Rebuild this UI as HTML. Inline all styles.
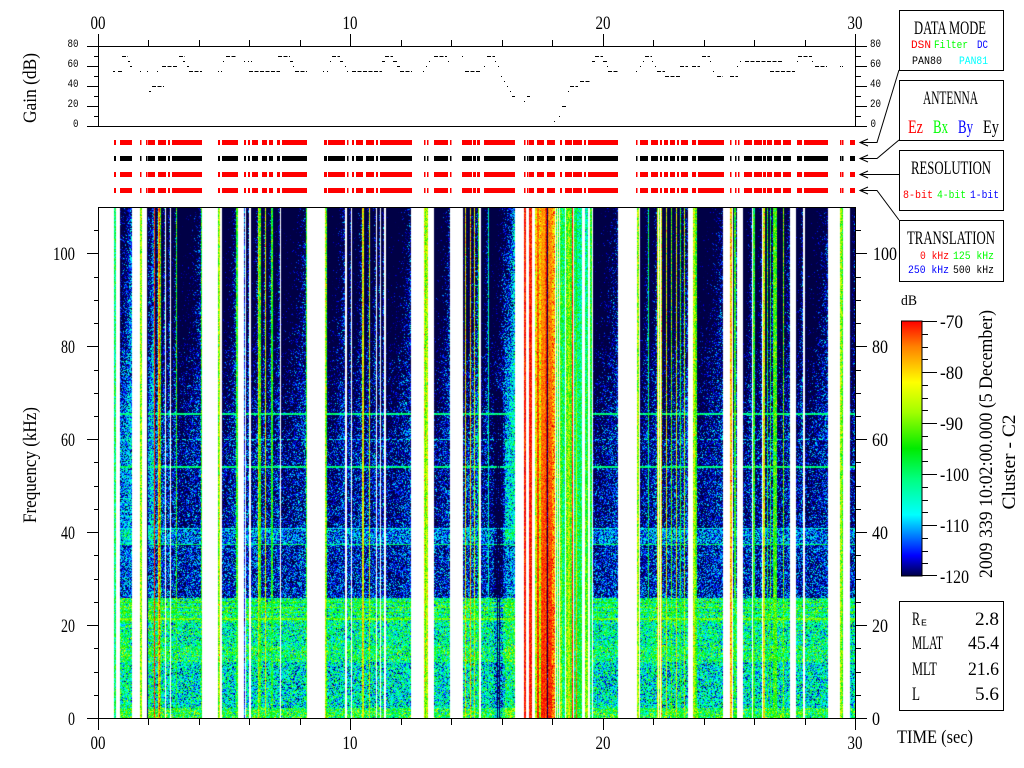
<!DOCTYPE html>
<html><head><meta charset="utf-8">
<style>
html,body{margin:0;padding:0;background:#fff;}
#wrap{position:relative;width:1024px;height:768px;overflow:hidden;background:#fff;}
#spec{position:absolute;left:99px;top:208px;}
#ov{position:absolute;left:0;top:0;}
.s{font-family:"Liberation Serif",serif;font-size:19px;fill:#000;}
.m{font-family:"Liberation Mono",monospace;font-size:11px;fill:#000;}
</style></head>
<body><div id="wrap">
<canvas id="spec" width="756" height="510"></canvas>
<svg id="ov" width="1024" height="768" viewBox="0 0 1024 768" xmlns="http://www.w3.org/2000/svg">
<defs>
<linearGradient id="cb" x1="0" y1="0" x2="0" y2="1">
<stop offset="0" stop-color="#ff0000"/>
<stop offset="0.1" stop-color="#ff8000"/>
<stop offset="0.24" stop-color="#ffff00"/>
<stop offset="0.36" stop-color="#a0ff00"/>
<stop offset="0.5" stop-color="#00eb00"/>
<stop offset="0.62" stop-color="#00ff80"/>
<stop offset="0.76" stop-color="#00ffff"/>
<stop offset="0.84" stop-color="#0080ff"/>
<stop offset="0.92" stop-color="#0000ff"/>
<stop offset="1" stop-color="#000046"/>
</linearGradient>
<g id="bars">
<rect x="114" y="0" width="2" height="5"/><rect x="120" y="0" width="12" height="5"/><rect x="140" y="0" width="1.5" height="5"/><rect x="146" y="0" width="1.5" height="5"/><rect x="148" y="0" width="7" height="5"/><rect x="158" y="0" width="8" height="5"/><rect x="168" y="0" width="2" height="5"/><rect x="172" y="0" width="30" height="5"/>
<rect x="218" y="0" width="2" height="5"/><rect x="222" y="0" width="16" height="5"/><rect x="244" y="0" width="2" height="5"/><rect x="248" y="0" width="2" height="5"/><rect x="252" y="0" width="6" height="5"/><rect x="262" y="0" width="5" height="5"/><rect x="269" y="0" width="4" height="5"/><rect x="277" y="0" width="3" height="5"/><rect x="282" y="0" width="25" height="5"/>
<rect x="324" y="0" width="3" height="5"/><rect x="328" y="0" width="17" height="5"/><rect x="347" y="0" width="1.5" height="5"/><rect x="352" y="0" width="2" height="5"/><rect x="356" y="0" width="7" height="5"/><rect x="366" y="0" width="8" height="5"/><rect x="376" y="0" width="2" height="5"/><rect x="380" y="0" width="32" height="5"/>
<rect x="424" y="0" width="1.5" height="5"/><rect x="427" y="0" width="1.5" height="5"/><rect x="434" y="0" width="14" height="5"/><rect x="450" y="0" width="1.5" height="5"/><rect x="462" y="0" width="10" height="5"/><rect x="473" y="0" width="3" height="5"/><rect x="477" y="0" width="3" height="5"/><rect x="484" y="0" width="31" height="5"/>
<rect x="524" y="0" width="1.5" height="5"/><rect x="527" y="0" width="1.5" height="5"/><rect x="529" y="0" width="5" height="5"/><rect x="537" y="0" width="7" height="5"/><rect x="547" y="0" width="8" height="5"/><rect x="560" y="0" width="2" height="5"/><rect x="565" y="0" width="7" height="5"/><rect x="573" y="0" width="9" height="5"/><rect x="584" y="0" width="2" height="5"/><rect x="588" y="0" width="30" height="5"/>
<rect x="636" y="0" width="1.5" height="5"/><rect x="640" y="0" width="8" height="5"/><rect x="651" y="0" width="7" height="5"/><rect x="660" y="0" width="2" height="5"/><rect x="664" y="0" width="4" height="5"/><rect x="670" y="0" width="5" height="5"/><rect x="677" y="0" width="2" height="5"/><rect x="681" y="0" width="7" height="5"/><rect x="692" y="0" width="4" height="5"/><rect x="698" y="0" width="26" height="5"/>
<rect x="730" y="0" width="1.5" height="5"/><rect x="735" y="0" width="1.5" height="5"/><rect x="738" y="0" width="1.5" height="5"/><rect x="744" y="0" width="8" height="5"/><rect x="754" y="0" width="8" height="5"/><rect x="763" y="0" width="3" height="5"/><rect x="767" y="0" width="5" height="5"/><rect x="774" y="0" width="7" height="5"/><rect x="783" y="0" width="8" height="5"/><rect x="797" y="0" width="5" height="5"/><rect x="804" y="0" width="24" height="5"/>
<rect x="840" y="0" width="1.5" height="5"/><rect x="842" y="0" width="1.5" height="5"/><rect x="850" y="0" width="5" height="5"/>
</g>
</defs>

<!-- GAIN PANEL -->
<g stroke="#000" stroke-width="1" fill="none" shape-rendering="crispEdges">
<path d="M98.5 34V127 M855.5 34V127 M87 46.5H867 M87 126.5H867
M148.5 40V46 M199.5 40V46 M249.5 40V46 M300.5 40V46 M401.5 40V46 M451.5 40V46 M502.5 40V46 M552.5 40V46 M653.5 40V46 M704.5 40V46 M754.5 40V46 M805.5 40V46
M350.5 34V46 M603.5 34V46
M94 56.5H98 M94 76.5H98 M94 96.5H98 M94 116.5H98 M856 56.5H861 M856 76.5H861 M856 96.5H861 M856 116.5H861
M87 66.5H98 M87 86.5H98 M87 106.5H98 M856 66.5H867 M856 86.5H867 M856 106.5H867"/>
</g>
<g stroke="#000" stroke-width="1" stroke-dasharray="4 1.5" shape-rendering="crispEdges">
<path d="M113 71.5H115 M118 71.5H122 M122 56.5H128 M128 61.5H130 M130 66.5H132 M140 71.5H141 M147 71.5H148 M149 91.5H151 M152 86.5H164 M157 71.5H158 M162 66.5H178 M179 56.5H185 M183 61.5H185 M187 66.5H189 M189 71.5H202
M218 71.5H219 M221 71.5H222 M223 61.5H224 M226 56.5H237 M244 61.5H245 M248 61.5H249 M251 61.5H252 M249 71.5H280 M278 56.5H290 M290 61.5H293 M293 66.5H294 M295 71.5H307
M323 71.5H324 M327 71.5H328 M330 61.5H331 M332 56.5H340 M340 61.5H343 M345 66.5H346 M347 71.5H348 M352 71.5H382 M382 61.5H385 M385 56.5H393 M393 61.5H397 M397 66.5H400 M400 71.5H412
M423 71.5H424 M426 66.5H427 M429 61.5H430 M434 56.5H447 M448 61.5H449 M462 56.5H463 M465 71.5H480 M484 66.5H485 M487 56.5H495 M495 61.5H496 M498 66.5H499 M501 76.5H502 M504 81.5H505 M507 86.5H508 M510 91.5H511 M512 96.5H515 M524 101.5H525 M527 96.5H530
M554 121.5H555 M559 116.5H560 M562 106.5H567 M568 91.5H569 M570 86.5H578 M580 81.5H590 M592 61.5H595 M595 56.5H603 M603 61.5H607 M607 66.5H608 M608 71.5H618
M636 71.5H637 M640 66.5H641 M643 61.5H644 M645 56.5H652 M652 61.5H653 M655 66.5H656 M657 71.5H665 M665 76.5H680 M680 66.5H688 M692 66.5H700 M702 56.5H710 M710 61.5H711 M713 71.5H714 M717 76.5H723 M730 76.5H738 M737 66.5H738 M740 61.5H741 M745 61.5H783 M770 71.5H795 M797 61.5H798 M798 56.5H812 M812 61.5H813 M815 66.5H827 M840 66.5H841 M842 66.5H843"/>
</g>
<text class="m" x="78.5" y="47" text-anchor="end" textLength="11" lengthAdjust="spacingAndGlyphs">80</text>
<text class="m" x="78.5" y="67" text-anchor="end" textLength="11" lengthAdjust="spacingAndGlyphs">60</text>
<text class="m" x="78.5" y="87" text-anchor="end" textLength="11" lengthAdjust="spacingAndGlyphs">40</text>
<text class="m" x="78.5" y="107" text-anchor="end" textLength="11" lengthAdjust="spacingAndGlyphs">20</text>
<text class="m" x="78.5" y="127" text-anchor="end" textLength="5.5" lengthAdjust="spacingAndGlyphs">0</text>
<text class="m" x="870" y="47" textLength="11" lengthAdjust="spacingAndGlyphs">80</text>
<text class="m" x="870" y="67" textLength="11" lengthAdjust="spacingAndGlyphs">60</text>
<text class="m" x="870" y="87" textLength="11" lengthAdjust="spacingAndGlyphs">40</text>
<text class="m" x="870" y="107" textLength="11" lengthAdjust="spacingAndGlyphs">20</text>
<text class="m" x="870.5" y="127" textLength="5.5" lengthAdjust="spacingAndGlyphs">0</text>

<text class="s" x="98" y="29" text-anchor="middle" textLength="15" lengthAdjust="spacingAndGlyphs">00</text>
<text class="s" x="350" y="29" text-anchor="middle" textLength="15" lengthAdjust="spacingAndGlyphs">10</text>
<text class="s" x="603" y="29" text-anchor="middle" textLength="15" lengthAdjust="spacingAndGlyphs">20</text>
<text class="s" x="855" y="29" text-anchor="middle" textLength="15" lengthAdjust="spacingAndGlyphs">30</text>

<text class="s" transform="translate(36,88) rotate(-90)" text-anchor="middle" textLength="70" lengthAdjust="spacingAndGlyphs">Gain (dB)</text>
<text class="s" transform="translate(36,465) rotate(-90)" text-anchor="middle" textLength="116" lengthAdjust="spacingAndGlyphs">Frequency (kHz)</text>

<!-- MODE BARS -->
<use href="#bars" x="0" y="140" fill="#ff0000"/>
<use href="#bars" x="0" y="156" fill="#000000"/>
<use href="#bars" x="0" y="172" fill="#ff0000"/>
<use href="#bars" x="0" y="188" fill="#ff0000"/>

<!-- ARROWS -->
<g stroke="#000" stroke-width="1" fill="none">
<path d="M860 142.5H877L899 70 M868 139L860 142.5L868 146"/>
<path d="M860 158.5H877L899 140 M868 155L860 158.5L868 162"/>
<path d="M860 174.5H899 M868 171L860 174.5L868 178"/>
<path d="M860 190.5H877L899 220 M868 187L860 190.5L868 194"/>
</g>

<!-- LEGEND BOXES -->
<g stroke="#000" stroke-width="1" fill="none" shape-rendering="crispEdges">
<rect x="899.5" y="10.5" width="104" height="60"/>
<rect x="899.5" y="80.5" width="104" height="60"/>
<rect x="899.5" y="150.5" width="104" height="60"/>
<rect x="899.5" y="220.5" width="104" height="61"/>
<rect x="899.5" y="601.5" width="104" height="109"/>
</g>
<text class="s" x="914" y="34" textLength="72" lengthAdjust="spacingAndGlyphs">DATA MODE</text>
<text class="m" x="911" y="48" textLength="20" lengthAdjust="spacingAndGlyphs" style="fill:#ff0000">DSN</text>
<text class="m" x="934" y="48" textLength="34" lengthAdjust="spacingAndGlyphs" style="fill:#00ff00">Filter</text>
<text class="m" x="977" y="48" textLength="11" lengthAdjust="spacingAndGlyphs" style="fill:#0000ff">DC</text>
<text class="m" x="912" y="64" textLength="30" lengthAdjust="spacingAndGlyphs">PAN80</text>
<text class="m" x="959" y="64" textLength="29" lengthAdjust="spacingAndGlyphs" style="fill:#00ffff">PAN81</text>

<text class="s" x="923" y="104" textLength="55" lengthAdjust="spacingAndGlyphs">ANTENNA</text>
<text class="s" x="908" y="133" textLength="15" lengthAdjust="spacingAndGlyphs" style="fill:#ff0000">Ez</text>
<text class="s" x="933" y="133" textLength="15" lengthAdjust="spacingAndGlyphs" style="fill:#00ff00">Bx</text>
<text class="s" x="958" y="133" textLength="15" lengthAdjust="spacingAndGlyphs" style="fill:#0000ff">By</text>
<text class="s" x="983" y="133" textLength="16" lengthAdjust="spacingAndGlyphs">Ey</text>

<text class="s" x="911" y="174" textLength="80" lengthAdjust="spacingAndGlyphs">RESOLUTION</text>
<text class="m" x="903" y="198" textLength="30" lengthAdjust="spacingAndGlyphs" style="fill:#ff0000">8-bit</text>
<text class="m" x="937" y="198" textLength="29" lengthAdjust="spacingAndGlyphs" style="fill:#00ff00">4-bit</text>
<text class="m" x="970" y="198" textLength="29" lengthAdjust="spacingAndGlyphs" style="fill:#0000ff">1-bit</text>

<text class="s" x="907" y="244" textLength="88" lengthAdjust="spacingAndGlyphs">TRANSLATION</text>
<text class="m" x="920" y="259" textLength="29" lengthAdjust="spacingAndGlyphs" style="fill:#ff0000">0 kHz</text>
<text class="m" x="953" y="259" textLength="41" lengthAdjust="spacingAndGlyphs" style="fill:#00ff00">125 kHz</text>
<text class="m" x="908" y="273" textLength="41" lengthAdjust="spacingAndGlyphs" style="fill:#0000ff">250 kHz</text>
<text class="m" x="953" y="273" textLength="41" lengthAdjust="spacingAndGlyphs">500 kHz</text>

<!-- SPECTROGRAM AXES -->
<g stroke="#000" stroke-width="1" fill="none" shape-rendering="crispEdges">
<path d="M98.5 207V730 M855.5 207V730 M98 207.5H856 M87 718.5H867
M148.5 719V725 M199.5 719V725 M249.5 719V725 M300.5 719V725 M401.5 719V725 M451.5 719V725 M502.5 719V725 M552.5 719V725 M653.5 719V725 M704.5 719V725 M754.5 719V725 M805.5 719V725
M350.5 719V730 M603.5 719V730
M94 695.5H98 M94 672.5H98 M94 648.5H98 M94 602.5H98 M94 579.5H98 M94 555.5H98 M94 509.5H98 M94 486.5H98 M94 462.5H98 M94 416.5H98 M94 393.5H98 M94 370.5H98 M94 323.5H98 M94 300.5H98 M94 277.5H98 M94 230.5H98
M856 695.5H861 M856 672.5H861 M856 648.5H861 M856 602.5H861 M856 579.5H861 M856 555.5H861 M856 509.5H861 M856 486.5H861 M856 462.5H861 M856 416.5H861 M856 393.5H861 M856 370.5H861 M856 323.5H861 M856 300.5H861 M856 277.5H861 M856 230.5H861
M87 625.5H98 M87 532.5H98 M87 439.5H98 M87 346.5H98 M87 253.5H98
M856 625.5H867 M856 532.5H867 M856 439.5H867 M856 346.5H867 M856 253.5H867"/>
</g>
<text class="s" x="75" y="725" text-anchor="end" textLength="7" lengthAdjust="spacingAndGlyphs">0</text>
<text class="s" x="75" y="632" text-anchor="end" textLength="14" lengthAdjust="spacingAndGlyphs">20</text>
<text class="s" x="75" y="539" text-anchor="end" textLength="14" lengthAdjust="spacingAndGlyphs">40</text>
<text class="s" x="75" y="446" text-anchor="end" textLength="14" lengthAdjust="spacingAndGlyphs">60</text>
<text class="s" x="75" y="353" text-anchor="end" textLength="14" lengthAdjust="spacingAndGlyphs">80</text>
<text class="s" x="75" y="260" text-anchor="end" textLength="22" lengthAdjust="spacingAndGlyphs">100</text>
<text class="s" x="872" y="725" textLength="8" lengthAdjust="spacingAndGlyphs">0</text>
<text class="s" x="872" y="632" textLength="16" lengthAdjust="spacingAndGlyphs">20</text>
<text class="s" x="872" y="539" textLength="16" lengthAdjust="spacingAndGlyphs">40</text>
<text class="s" x="872" y="446" textLength="16" lengthAdjust="spacingAndGlyphs">60</text>
<text class="s" x="872" y="353" textLength="16" lengthAdjust="spacingAndGlyphs">80</text>
<text class="s" x="873" y="260" textLength="24" lengthAdjust="spacingAndGlyphs">100</text>

<text class="s" x="98" y="749" text-anchor="middle" textLength="15" lengthAdjust="spacingAndGlyphs">00</text>
<text class="s" x="350" y="749" text-anchor="middle" textLength="15" lengthAdjust="spacingAndGlyphs">10</text>
<text class="s" x="603" y="749" text-anchor="middle" textLength="15" lengthAdjust="spacingAndGlyphs">20</text>
<text class="s" x="855" y="749" text-anchor="middle" textLength="15" lengthAdjust="spacingAndGlyphs">30</text>

<!-- COLORBAR -->
<text class="s" x="901" y="305" textLength="16" lengthAdjust="spacingAndGlyphs" style="font-size:15px">dB</text>
<rect x="901.5" y="321" width="20.5" height="255" fill="url(#cb)" stroke="#000" stroke-width="1"/>
<g stroke="#000" stroke-width="1" fill="none" shape-rendering="crispEdges">
<path d="M922 321.5H937 M922 372.5H937 M922 423.5H937 M922 474.5H937 M922 525.5H937 M922 575.5H937
M922 334.5H928 M922 347.5H928 M922 359.5H928 M922 385.5H928 M922 398.5H928 M922 410.5H928 M922 436.5H928 M922 449.5H928 M922 461.5H928 M922 487.5H928 M922 500.5H928 M922 512.5H928 M922 538.5H928 M922 551.5H928 M922 563.5H928"/>
</g>
<text class="s" x="940" y="328" textLength="23" lengthAdjust="spacingAndGlyphs">-70</text>
<text class="s" x="940" y="379" textLength="23" lengthAdjust="spacingAndGlyphs">-80</text>
<text class="s" x="940" y="430" textLength="23" lengthAdjust="spacingAndGlyphs">-90</text>
<text class="s" x="940" y="481" textLength="29" lengthAdjust="spacingAndGlyphs">-100</text>
<text class="s" x="940" y="532" textLength="29" lengthAdjust="spacingAndGlyphs">-110</text>
<text class="s" x="940" y="583" textLength="29" lengthAdjust="spacingAndGlyphs">-120</text>
<text class="s" transform="translate(992,444) rotate(-90)" text-anchor="middle" textLength="268" lengthAdjust="spacingAndGlyphs">2009 339 10:02:00.000 (5 December)</text>
<text class="s" transform="translate(1015,462) rotate(-90)" text-anchor="middle" textLength="95" lengthAdjust="spacingAndGlyphs">Cluster - C2</text>

<!-- INFO BOX -->
<text class="s" x="912" y="625" textLength="8" lengthAdjust="spacingAndGlyphs">R</text>
<text class="m" x="921" y="625.5" textLength="6" lengthAdjust="spacingAndGlyphs" style="font-size:9px">E</text>
<text class="s" x="999" y="625" text-anchor="end" textLength="24" lengthAdjust="spacingAndGlyphs">2.8</text>
<text class="s" x="912" y="649" textLength="31" lengthAdjust="spacingAndGlyphs">MLAT</text>
<text class="s" x="999" y="649" text-anchor="end" textLength="31" lengthAdjust="spacingAndGlyphs">45.4</text>
<text class="s" x="912" y="675" textLength="25" lengthAdjust="spacingAndGlyphs">MLT</text>
<text class="s" x="999" y="675" text-anchor="end" textLength="31" lengthAdjust="spacingAndGlyphs">21.6</text>
<text class="s" x="912" y="700" textLength="8" lengthAdjust="spacingAndGlyphs">L</text>
<text class="s" x="999" y="700" text-anchor="end" textLength="24" lengthAdjust="spacingAndGlyphs">5.6</text>

<text class="s" x="897" y="743" textLength="76" lengthAdjust="spacingAndGlyphs">TIME (sec)</text>
</svg>
</div>
<script>
(function(){
var c=document.getElementById('spec');if(!c||!c.getContext)return;
var ctx=c.getContext('2d');var W=756,H=510;var img=ctx.createImageData(W,H);var D=img.data;
var s=2463534242;
function rnd(){s^=s<<13;s^=s>>>17;s^=s<<5;return (s>>>0)/4294967296;}
function g(){return (rnd()+rnd()+rnd()-1.5)*2;}
var S=[[-120,0,0,70],[-116,0,0,255],[-112,0,128,255],[-108,0,255,255],[-101,0,255,128],[-95,0,235,0],[-88,160,255,0],[-82,255,255,0],[-75,255,128,0],[-70,255,0,0],[-65,140,0,0]];
var o=[0,0,0];
function cm(v){
 if(v<=S[0][0]){o[0]=0;o[1]=0;o[2]=70;return;}
 for(var i=1;i<S.length;i++){if(v<=S[i][0]){var a=S[i-1],b=S[i],t=(v-a[0])/(b[0]-a[0]);o[0]=a[1]+(b[1]-a[1])*t;o[1]=a[2]+(b[2]-a[2])*t;o[2]=a[3]+(b[3]-a[3])*t;return;}}
 var l=S[S.length-1];o[0]=l[1];o[1]=l[2];o[2]=l[3];
}
var segs=[[120,132,8],[148,154,10],[155,158,4],[161,165,3],[166,170,2],[171,176,1],[177,201,0],
[222,236,0],[246,249,2],[251,258,1],[261,265,1],[266,271,1],[273,280,1],[281,306,0],
[327,345,0],[347,351,1],[352,362,1],[364,369,1],[370,376,1],[377,380,1],[381,384,1],[386,411,0],
[434,450,0],[463,479,3],[481,488,0],[489,505,0],[505,515,12],
[593,618,0],
[640,648,0],[649,657,1],[662,688,1],[697,723,0],[733,737,1],[743,752,0],[755,762,0],[765,773,1],[777,790,0],[796,803,1],[805,828,0],[850,855,-1]];
var str=[[114,116,-100],[140,142,-88],[147,148,-124],[154,155,-72],[158,159,-82],[159,160,-74],[160,161,-92],[176,177,-95],[201,202,-95],[218,219,-92],[219,220,-84],[236,238,-95],[244,245,-114],[258,259,-85],[259,261,-93],[265,266,-83],[271,273,-95],[306,307,-95],[325,326,-86],[326,327,-94],[362,364,-83],[369,370,-84],[424,425,-84],[425,426,-92],[426,428,-86],[465,466,-82],[470,471,-80],[474,475,-84],[478,479,-96],[488,489,-104],
[524,526,-71],[529,532,-71],
[535,537,-80,-88],[537,539,-74,-71],[539,541,-80,-87],[541,545,-77,-71],[545,546,-74,-73],[546,547,-68,-70],[547,548,-125,-125],[548,552,-76,-71],[552,555,-78,-75],
[556,557,-93,-93],[558,559,-96,-96],[560,562,-97,-88],[562,565,-100,-100],[566,568,-93,-90],[568,570,-90,-85],[570,572,-95,-92],[572,573,-71,-71],[574,576,-100,-98],[576,577,-98,-73],[577,582,-103,-96],[585,588,-104,-88],[590,592,-95,-100],
[637,639,-88],[648,649,-100],[657,658,-84],[659,660,-88],[661,662,-82],[666,667,-84],[671,672,-92],[676,677,-84],[680,681,-95],[684,685,-86],[693,695,-86],[695,697,-93],[730,732,-80],[734,736,-95],[753,755,-95],[763,765,-84],[767,768,-95],[770,771,-94],[773,777,-93],[783,784,-90],[840,842,-88],[842,843,-94]];
var T=new Array(W);
segs.forEach(function(q){var n=Math.max(1,q[1]-q[0]-1);for(var x=q[0];x<q[1];x++){var i=x-99;if(i>=0&&i<W)T[i]={d:1,r:(x-q[0])/n,o:q[2]};}});
str.forEach(function(q){var vb=(q.length>3)?q[3]:q[2];for(var x=q[0];x<q[1];x++){var i=x-99;if(i>=0&&i<W)T[i]={d:0,v:q[2],vb:vb,sd:(Math.max(q[2],vb)>-74?1.8:4.5)};}});
var HL={413:-101,414:-101,439:-106,466:-101,467:-101,528:-107,544:-100,602:-93,607:-91,612:-93,618:-90,619:-90};
function mean(py,r){
 if(py<347)return -134+12*r*r+(py-208)*0.035;
 if(py<440)return -128+8*r+(py-347)*0.05;
 if(py<528)return -121+4*r;
 if(py<544)return -113;
 if(py<598)return -118+2*r;
 if(py<622)return -101;
 if(py<646)return -103;
 if(py<662)return -100;
 if(py<708)return -106;
 return -97;
}
for(var y=0;y<H;y++){
 var py=y+208,fy=y/H;
 var sd=py<598?6:7.5;
 for(var x=0;x<W;x++){
  var k=(y*W+x)*4,t=T[x],px=x+99,v;
  if(!t){D[k]=255;D[k+1]=255;D[k+2]=255;D[k+3]=255;continue;}
  if(t.d){
   var m=mean(py,t.r)+t.o*(py<540?1:0.4);
   if(px>=494&&px<=502&&py>390)m-=7;
   v=m+g()*sd;
   var h=HL[py];
   if(h!==undefined&&!(py===439&&(px%7)>3))v=h+g()*2.5;
   if((px===497||px===499)&&py>420)v=-126+g()*3;
  }else{var vv=t.v+(t.vb-t.v)*fy;v=vv+g()*(vv>-74?1.8:t.sd);}
  cm(v);D[k]=o[0];D[k+1]=o[1];D[k+2]=o[2];D[k+3]=255;
 }
}
ctx.putImageData(img,0,0);
})();
</script>
</body></html>
